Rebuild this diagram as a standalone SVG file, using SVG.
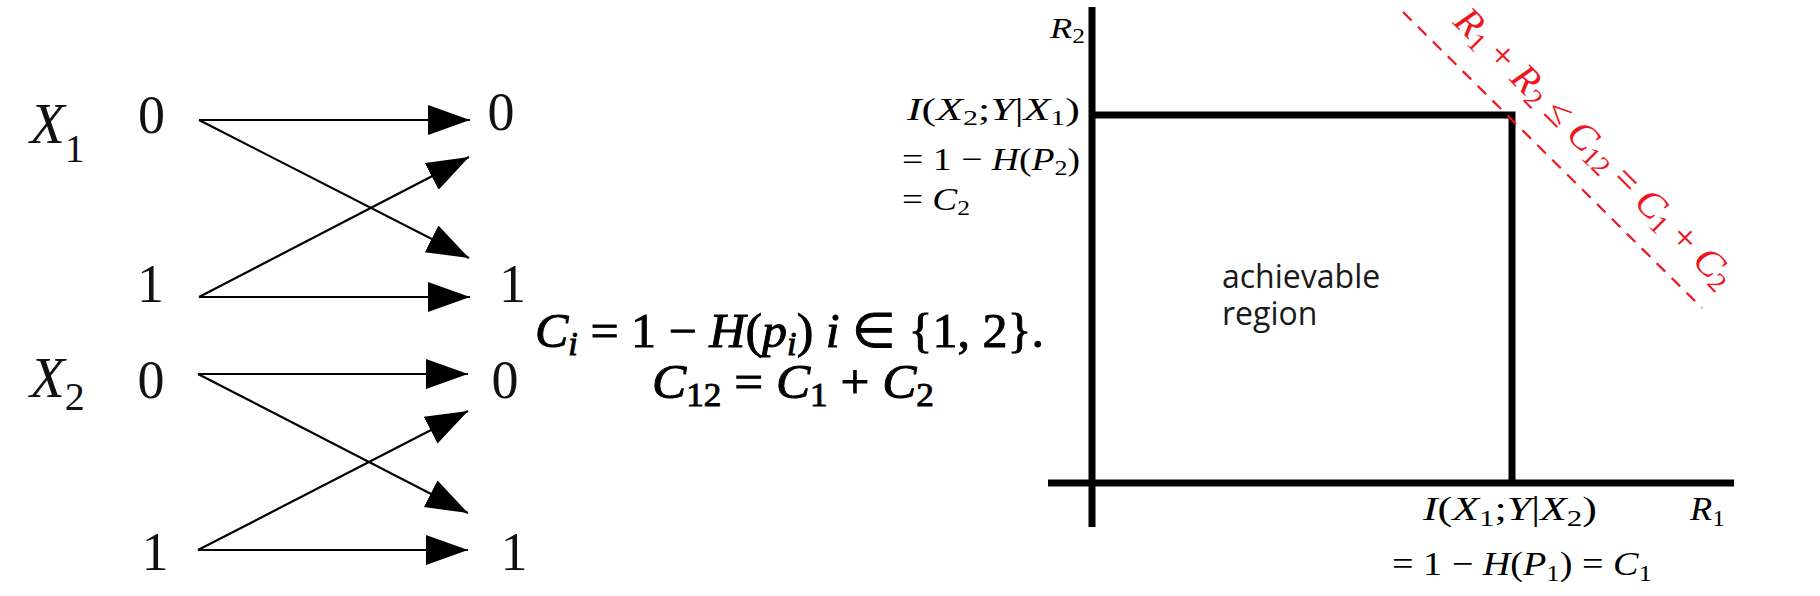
<svg xmlns="http://www.w3.org/2000/svg" width="1820" height="596" viewBox="0 0 1820 596">
<style>
.bg{fill:#fff}
.dig{font-family:"Liberation Serif","Times New Roman",serif;font-size:54px;fill:#111;text-anchor:middle}
.var{font-family:"Liberation Serif","Times New Roman",serif;font-style:italic;font-size:57px;fill:#111}
.sub{font-style:normal;font-size:40px}
.arr{stroke:#000;stroke-width:2.2;fill:none;marker-end:url(#ah)}
.fm{font-family:"Liberation Serif","Times New Roman",serif;font-size:48px;fill:#000;stroke:#000;stroke-width:0.9}
.it{font-style:italic}
.fs{font-size:33px}
.lab{font-family:"Liberation Serif","Times New Roman",serif;fill:#000}
.ax{stroke:#000;stroke-width:7;fill:none;stroke-linecap:butt;stroke-linejoin:miter}
.red{font-family:"Liberation Serif","Times New Roman",serif;font-size:39px;fill:#f0141e}
.ach{font-family:"Open Sans","Liberation Sans",sans-serif;font-size:32px;fill:#1a1a1a}
</style>
<defs>
<marker id="ah" markerUnits="userSpaceOnUse" markerWidth="44" markerHeight="32" refX="42" refY="15" orient="auto">
<path d="M0,0 L42,15 L0,30 z" fill="#000"/>
</marker>
</defs>
<rect class="bg" x="0" y="0" width="1820" height="596"/>

<g id="channel-1">
<text class="var" x="30" y="143">X<tspan class="sub" dy="19">1</tspan></text>
<text class="dig" x="151.5" y="133">0</text>
<text class="dig" x="150.5" y="302">1</text>
<text class="dig" x="501" y="130">0</text>
<text class="dig" x="512.5" y="302">1</text>
</g>
<g id="channel-2">
<text class="var" x="30" y="397">X<tspan class="sub" dy="13">2</tspan></text>
<text class="dig" x="151" y="398">0</text>
<text class="dig" x="155" y="570">1</text>
<text class="dig" x="505" y="398">0</text>
<text class="dig" x="514" y="570">1</text>
</g>
<g id="connectors">
<line class="arr" x1="199" y1="120" x2="470" y2="120"/>
<line class="arr" x1="199" y1="120" x2="469" y2="258"/>
<line class="arr" x1="199" y1="297" x2="470" y2="297"/>
<line class="arr" x1="199" y1="297" x2="469" y2="157"/>
<line class="arr" x1="198" y1="374" x2="468" y2="374"/>
<line class="arr" x1="198" y1="374" x2="468" y2="513"/>
<line class="arr" x1="198" y1="550" x2="468" y2="550"/>
<line class="arr" x1="198" y1="550" x2="468" y2="411"/>
</g>

<g id="formula">
<text class="fm" x="535" y="347" textLength="509" lengthAdjust="spacingAndGlyphs"><tspan class="it">C</tspan><tspan class="it fs" dy="8">i</tspan><tspan dy="-8"> = 1 − </tspan><tspan class="it">H</tspan>(<tspan class="it">p</tspan><tspan class="it fs" dy="8">i</tspan><tspan dy="-8">)  </tspan><tspan class="it">i</tspan> ∈ {1, 2}.</text>
<text class="fm" x="652" y="398" textLength="282" lengthAdjust="spacingAndGlyphs"><tspan class="it">C</tspan><tspan class="fs" dy="8">12</tspan><tspan dy="-8"> = </tspan><tspan class="it">C</tspan><tspan class="fs" dy="8">1</tspan><tspan dy="-8"> + </tspan><tspan class="it">C</tspan><tspan class="fs" dy="8">2</tspan></text>
</g>

<g id="plot">
<line class="ax" x1="1092" y1="7" x2="1092" y2="527"/>
<line class="ax" x1="1048" y1="483" x2="1734" y2="483"/>
<path class="ax" d="M1092,115 H1512 V483"/>
<line x1="1403" y1="12" x2="1702" y2="308" stroke="#f0141e" stroke-width="2.2" stroke-dasharray="12 9"/>
</g>

<g id="labels">
<text class="lab" x="1050" y="38" font-size="30" textLength="35" lengthAdjust="spacingAndGlyphs"><tspan class="it">R</tspan><tspan font-size="21" dy="5">2</tspan></text>
<text class="lab" x="907" y="120" font-size="32" textLength="173" lengthAdjust="spacingAndGlyphs"><tspan class="it">I</tspan>(<tspan class="it">X</tspan><tspan font-size="22" dy="5">2</tspan><tspan dy="-5">;</tspan><tspan class="it">Y</tspan>|<tspan class="it">X</tspan><tspan font-size="22" dy="5">1</tspan><tspan dy="-5">)</tspan></text>
<text class="lab" x="902" y="170" font-size="32" textLength="178" lengthAdjust="spacingAndGlyphs">= 1 − <tspan class="it">H</tspan>(<tspan class="it">P</tspan><tspan font-size="22" dy="5">2</tspan><tspan dy="-5">)</tspan></text>
<text class="lab" x="902" y="210" font-size="32" textLength="68" lengthAdjust="spacingAndGlyphs">= <tspan class="it">C</tspan><tspan font-size="22" dy="5">2</tspan></text>

<text class="lab" x="1423" y="520" font-size="34" textLength="174" lengthAdjust="spacingAndGlyphs"><tspan class="it">I</tspan>(<tspan class="it">X</tspan><tspan font-size="24" dy="6">1</tspan><tspan dy="-6">;</tspan><tspan class="it">Y</tspan>|<tspan class="it">X</tspan><tspan font-size="24" dy="6">2</tspan><tspan dy="-6">)</tspan></text>
<text class="lab" x="1392" y="575" font-size="34" textLength="260" lengthAdjust="spacingAndGlyphs">= 1 − <tspan class="it">H</tspan>(<tspan class="it">P</tspan><tspan font-size="24" dy="6">1</tspan><tspan dy="-6">) = </tspan><tspan class="it">C</tspan><tspan font-size="24" dy="6">1</tspan></text>
<text class="lab" x="1690" y="520" font-size="34" textLength="35" lengthAdjust="spacingAndGlyphs"><tspan class="it">R</tspan><tspan font-size="24" dy="6">1</tspan></text>

<text class="red" transform="translate(1452,23) rotate(45)" x="0" y="0" textLength="378" lengthAdjust="spacingAndGlyphs"><tspan class="it">R</tspan><tspan font-size="27" dy="5">1</tspan><tspan dy="-5"> + </tspan><tspan class="it">R</tspan><tspan font-size="27" dy="5">2</tspan><tspan dy="-5"> ≤ </tspan><tspan class="it">C</tspan><tspan font-size="27" dy="5">12</tspan><tspan dy="-5"> = </tspan><tspan class="it">C</tspan><tspan font-size="27" dy="5">1</tspan><tspan dy="-5"> + </tspan><tspan class="it">C</tspan><tspan font-size="27" dy="5">2</tspan></text>

<text class="ach" x="1222" y="288">achievable</text>
<text class="ach" x="1222" y="325">region</text>
</g>
</svg>
